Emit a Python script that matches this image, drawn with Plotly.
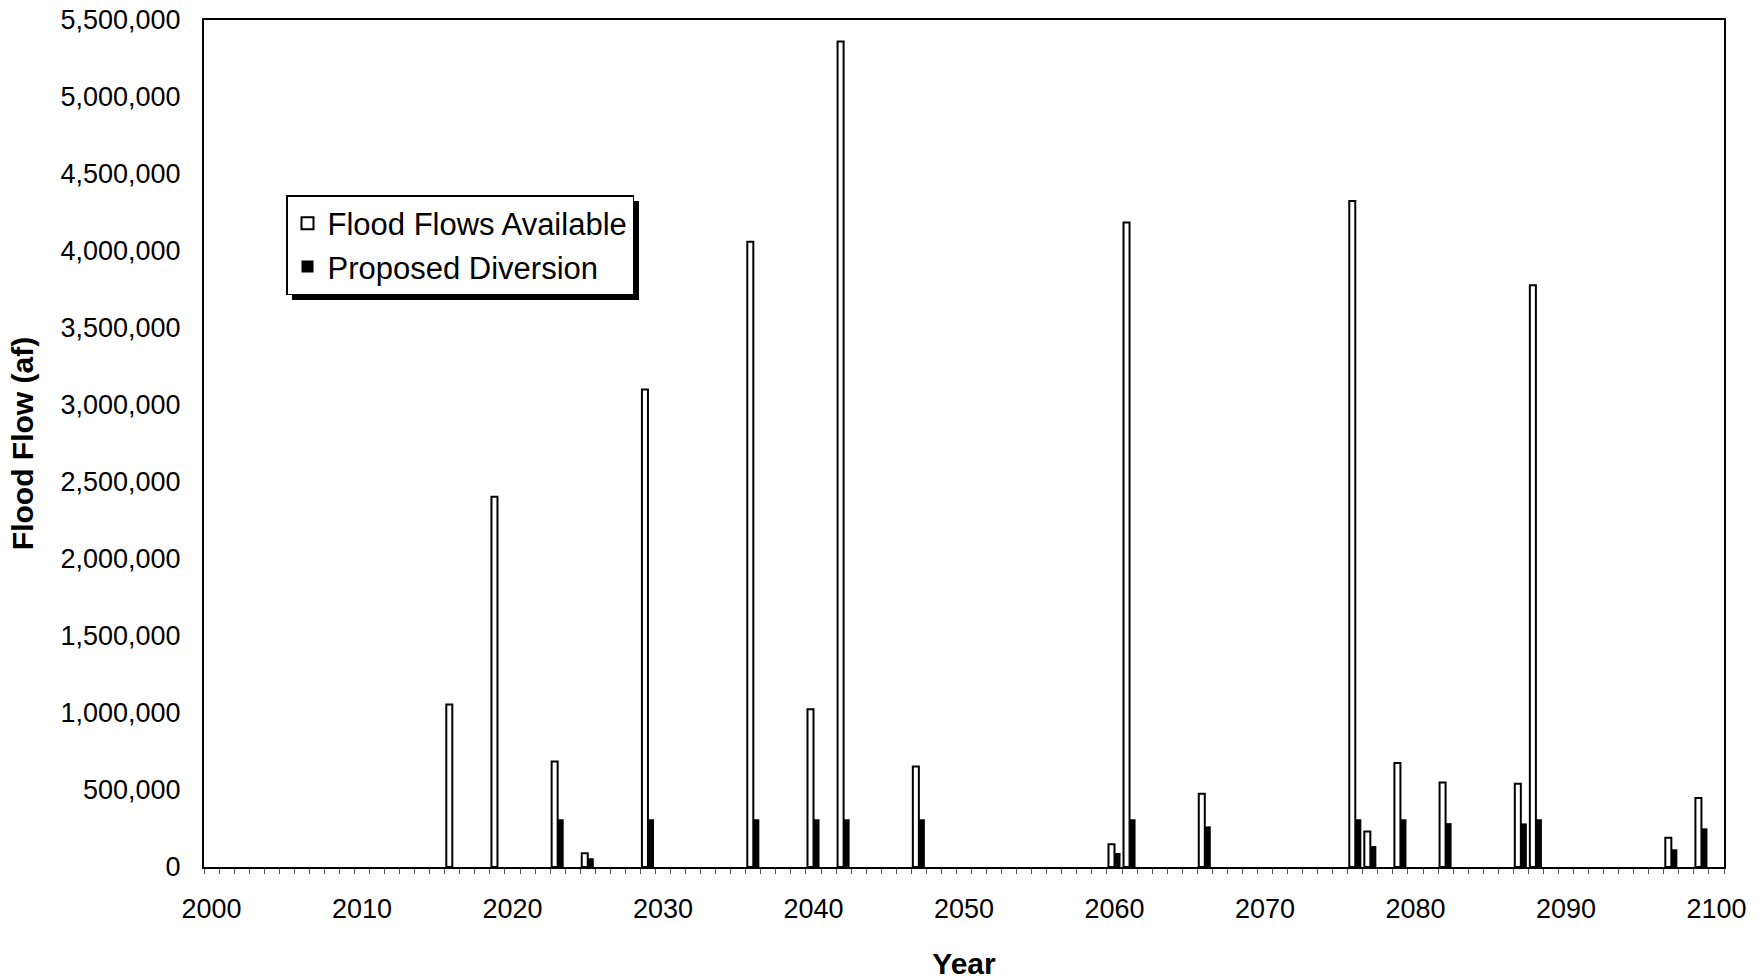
import plotly.graph_objects as go

years = [2016, 2019, 2023, 2025, 2029, 2036, 2040, 2042, 2047, 2060,
         2061, 2066, 2076, 2077, 2079, 2082, 2087, 2088, 2097, 2099]
flood_flows = [1055000, 2405000, 685000, 90000, 3100000, 4060000, 1025000, 5360000, 653000, 147000,
               4185000, 475000, 4325000, 230000, 675000, 548000, 540000, 3778000, 190000, 448000]
diversion = [0, 0, 310000, 57000, 310000, 310000, 310000, 310000, 310000, 91000,
             310000, 264000, 310000, 136000, 310000, 285000, 283000, 310000, 115000, 251000]

x_tick_labels = [str(y) for y in range(2000, 2101, 10)]

FONT = "Liberation Sans, Arial, sans-serif"

# plot-area geometry in pixels (for converting the legend shadow)
L, R, T, B = 204, 38, 20, 113
W, H = 1762, 980
PW, PH = W - L - R, H - T - B


def px_x(px):
    return (px - L) / PW


def px_y(py):
    return (H - B - py) / PH


fig = go.Figure()
fig.add_trace(go.Bar(
    x=years, y=flood_flows, name="Flood Flows Available",
    marker=dict(color="white", line=dict(color="black", width=2)),
))
fig.add_trace(go.Bar(
    x=years, y=diversion, name="Proposed Diversion",
    marker=dict(color="black", line=dict(color="black", width=0)),
))

leg_left, leg_top = 286, 195
leg_w, leg_h = 347, 99
shadow = 6

fig.update_layout(
    width=W, height=H,
    margin=dict(l=L, r=R, t=T, b=B),
    paper_bgcolor="white", plot_bgcolor="white",
    barmode="group", bargap=0.2, bargroupgap=0,
    font=dict(family=FONT, color="black"),
    showlegend=True,
    legend=dict(
        x=px_x(leg_left), y=px_y(leg_top), xanchor="left", yanchor="top",
        bgcolor="white", bordercolor="black", borderwidth=1.5,
        font=dict(size=31, family=FONT, color="black"),
        traceorder="normal",
    ),
    shapes=[dict(
        type="rect", xref="paper", yref="paper",
        x0=px_x(leg_left + shadow), x1=px_x(leg_left + leg_w + shadow),
        y0=px_y(leg_top + leg_h + shadow), y1=px_y(leg_top + shadow),
        fillcolor="black", line=dict(width=0), layer="above",
    )],
    xaxis=dict(
        range=[1999.5, 2100.5],
        tickmode="array",
        tickvals=list(range(2000, 2101, 10)),
        ticktext=x_tick_labels,
        ticks="",
        showline=True, linecolor="black", linewidth=2, mirror=True,
        showgrid=False, zeroline=False, automargin=False,
        tickfont=dict(size=27, family=FONT, color="black"),
        ticklabelstandoff=17,
        minor=dict(tickmode="linear", tick0=1999.5, dtick=1, ticks="outside",
                   ticklen=5, tickwidth=1, tickcolor="#555555", showgrid=False),
        title=dict(text="Year", font=dict(size=30, family=FONT, weight="bold"), standoff=31),
    ),
    yaxis=dict(
        range=[0, 5500000],
        tickmode="linear", tick0=0, dtick=500000, tickformat=",",
        ticks="",
        showline=True, linecolor="black", linewidth=2, mirror=True,
        showgrid=False, zeroline=False, automargin=False,
        tickfont=dict(size=27, family=FONT, color="black"),
        ticklabelstandoff=16,
        title=dict(text="Flood Flow (af)", font=dict(size=30, family=FONT, weight="bold"), standoff=18),
    ),
)

fig.write_html("out.html")
